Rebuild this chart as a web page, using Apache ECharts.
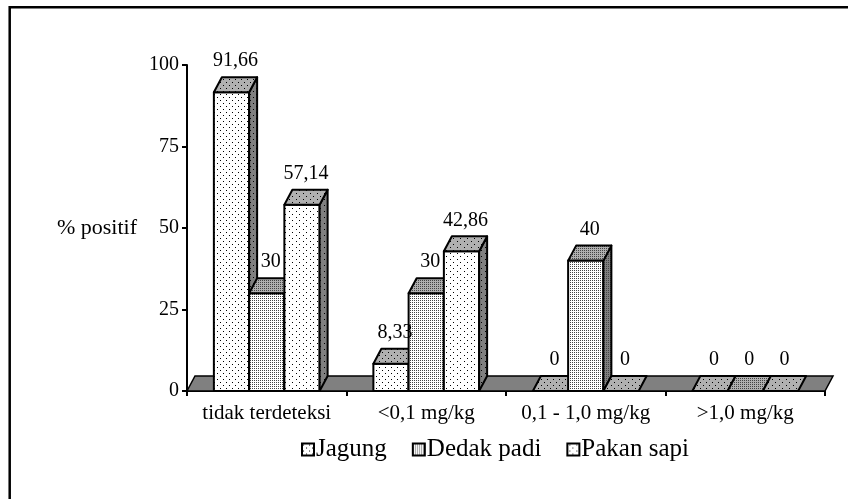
<!DOCTYPE html>
<html>
<head>
<meta charset="utf-8">
<script src="https://cdn.jsdelivr.net/npm/echarts@6/dist/echarts.min.js"></script>
<style>
html,body{margin:0;padding:0;background:#fff;}
#chart{width:848px;height:499px;}
</style>
</head>
<body>
<div id="chart"></div>
<script>
// ---- data ----
var categories = ['tidak terdeteksi', '<0,1 mg/kg', '0,1 - 1,0 mg/kg', '>1,0 mg/kg'];
var seriesNames = ['Jagung', 'Dedak padi', 'Pakan sapi'];
var jagung = [91.66, 8.33, 0, 0];
var dedakPadi = [30, 30, 40, 0];
var pakanSapi = [57.14, 42.86, 0, 0];
var yTicks = [0, 25, 50, 75, 100];
var yAxisTitle = '% positif';

// ---- styling ----
var FONT = '"Liberation Serif", "Times New Roman", serif';
var DX = 8, DY = 15;
var BAR_FRAC = 0.221;

function makePattern(w, h, bg, dots, dotColor) {
  var c = document.createElement('canvas');
  c.width = w; c.height = h;
  var ctx = c.getContext('2d');
  ctx.fillStyle = bg; ctx.fillRect(0, 0, w, h);
  ctx.fillStyle = dotColor || '#000';
  dots.forEach(function (d) { ctx.fillRect(d[0], d[1], d[2] || 1, d[3] || 1); });
  return { image: c, repeat: 'repeat' };
}
var dotSets = [
  { w: 6, h: 6, dots: [[1, 1], [4, 4]], c: '#000' },   // Jagung: sparse staggered
  { w: 2, h: 2, dots: [[0, 0]], c: '#444' },           // Dedak padi: dense
  { w: 7, h: 6, dots: [[2, 1], [5, 4]], c: '#000' }    // Pakan sapi: sparse
];
var patterns = dotSets.map(function (d) {
  return {
    front: makePattern(d.w, d.h, '#ffffff', d.dots, d.c),
    top: makePattern(d.w, d.h, '#b0b0b0', d.dots, d.c),
    side: makePattern(d.w, d.h, '#808080', d.dots, d.c)
  };
});

function fmt(v) { return String(v).replace('.', ','); }

function barGeom(api, si) {
  var cat = api.value(0), val = api.value(1);
  var base = api.coord([cat, 0]);
  var topP = api.coord([cat, val]);
  var band = api.size([1, 0])[0];
  var bw = band * BAR_FRAC;
  var x0 = base[0] - 1.5 * bw + si * bw;
  return { x0: x0, x1: x0 + bw, bw: bw, yb: base[1], yt: topP[1], val: val };
}

function barRenderer(si) {
  return function (params, api) {
    var g = barGeom(api, si);
    var p = patterns[si];
    var st = { stroke: '#000', lineWidth: 2, lineJoin: 'round' };
    var children = [];
    if (g.yb - g.yt > 0.5) {
      children.push({ type: 'rect', shape: { x: g.x0, y: g.yt, width: g.bw, height: g.yb - g.yt },
        style: Object.assign({ fill: p.front }, st) });
      children.push({ type: 'polygon', shape: { points: [[g.x1, g.yt], [g.x1 + DX, g.yt - DY], [g.x1 + DX, g.yb - DY], [g.x1, g.yb]] },
        style: Object.assign({ fill: p.side }, st) });
    }
    children.push({ type: 'polygon', shape: { points: [[g.x0, g.yt], [g.x0 + DX, g.yt - DY], [g.x1 + DX, g.yt - DY], [g.x1, g.yt]] },
      style: Object.assign({ fill: p.top }, st) });
    return { type: 'group', children: children };
  };
}

function labelRenderer(params, api) {
  var si = api.value(2);
  var g = barGeom(api, si);
  return { type: 'text', x: (g.x0 + g.x1) / 2 + DX / 2, y: g.yt - DY - 16,
    style: { text: fmt(g.val), font: '20px ' + FONT, fill: '#000', align: 'center', verticalAlign: 'middle' } };
}

function floorRenderer(params, api) {
  var band = api.size([1, 0])[0];
  var first = api.coord([0, 0]);
  var last = api.coord([categories.length - 1, 0]);
  var l = first[0] - band / 2, r = last[0] + band / 2, y = first[1];
  return { type: 'polygon', shape: { points: [[l, y], [l + DX, y - DY], [r + DX, y - DY], [r, y]] },
    style: { fill: '#808080', stroke: '#000', lineWidth: 1.5 } };
}

var seriesData = [jagung, dedakPadi, pakanSapi];
var series = [{
  type: 'custom', name: 'floor', renderItem: floorRenderer, data: [[0, 0]],
  encode: { x: 0, y: 1 }, silent: true
}];
var labelData = [];
seriesData.forEach(function (arr, si) {
  series.push({
    type: 'custom', name: seriesNames[si], renderItem: barRenderer(si),
    data: arr.map(function (v, i) { return [i, v]; }),
    encode: { x: 0, y: 1 },
    itemStyle: { color: patterns[si].front }
  });
  arr.forEach(function (v, i) { labelData.push([i, v, si]); });
});
series.push({
  type: 'custom', name: 'labels', renderItem: labelRenderer, data: labelData,
  encode: { x: 0, y: 1 }, silent: true
});

var chart = echarts.init(document.getElementById('chart'), null, { renderer: 'canvas' });
chart.setOption({
  animation: false,
  backgroundColor: '#fff',
  grid: { left: 187, right: 23, top: 65, bottom: 108 },
  xAxis: {
    type: 'category', data: categories, boundaryGap: true,
    axisLine: { lineStyle: { color: '#000', width: 2 } },
    axisTick: { show: true, interval: 0, length: 5, lineStyle: { color: '#000', width: 2 } },
    axisLabel: { interval: 0, margin: 12, color: '#000', fontSize: 21, fontFamily: FONT },
    splitLine: { show: false }
  },
  yAxis: {
    type: 'value', min: yTicks[0], max: yTicks[yTicks.length - 1], interval: yTicks[1] - yTicks[0],
    axisLine: { show: true, lineStyle: { color: '#000', width: 2 } },
    axisTick: { show: true, length: 5, lineStyle: { color: '#000', width: 2 } },
    axisLabel: { margin: 8, color: '#000', fontSize: 20, fontFamily: FONT },
    splitLine: { show: false }
  },
  legend: {
    data: seriesNames.map(function (n) {
      return { name: n, icon: 'rect', itemStyle: { borderColor: '#000', borderWidth: 2 } };
    }),
    left: 296, top: 432, itemWidth: 12, itemHeight: 12, itemGap: 25,
    textStyle: { color: '#000', fontSize: 25, fontFamily: FONT, padding: [0, 0, 0, -3] }
  },
  graphic: [
    { type: 'rect', shape: { x: 9.7, y: 7.2, width: 900, height: 600 },
      style: { fill: 'none', stroke: '#000', lineWidth: 2.5 }, silent: true },
    { type: 'text', x: 137, y: 228,
      style: { text: yAxisTitle, font: '22px ' + FONT, fill: '#000', align: 'right', verticalAlign: 'middle' } }
  ],
  series: series
});
</script>
</body>
</html>
